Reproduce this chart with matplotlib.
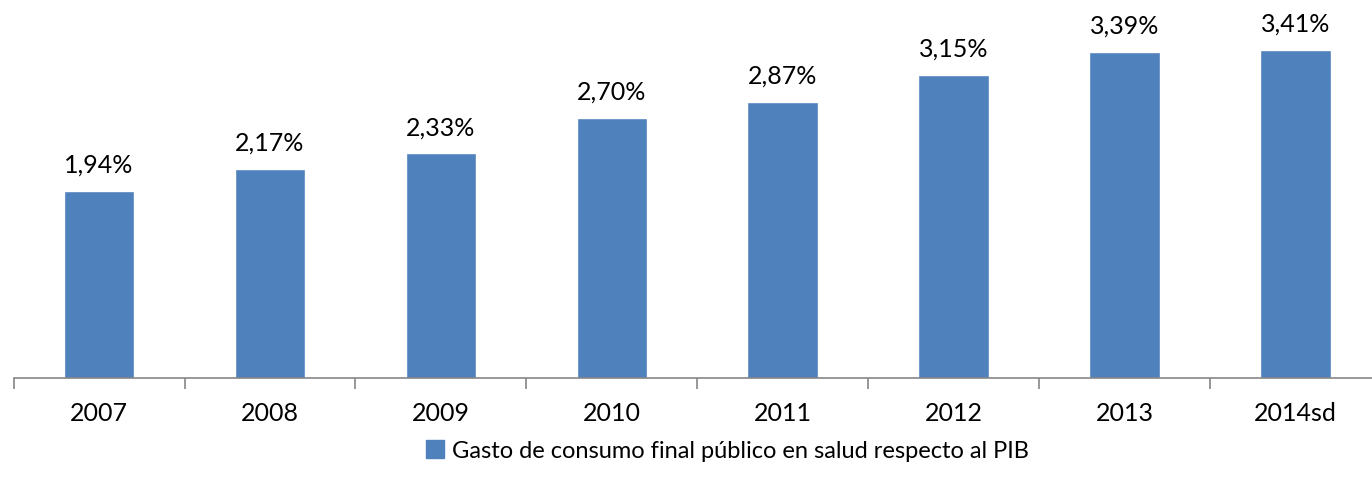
import matplotlib
matplotlib.use("Agg")
import matplotlib.pyplot as plt
from matplotlib.patches import Patch
import numpy as np

categories = ["2007", "2008", "2009", "2010", "2011", "2012", "2013", "2014sd"]
values = [1.94, 2.17, 2.33, 2.70, 2.87, 3.15, 3.39, 3.41]
labels = ["1,94%", "2,17%", "2,33%", "2,70%", "2,87%", "3,15%", "3,39%", "3,41%"]
series_name = "Gasto de consumo final público en salud respecto al PIB"

plt.rcParams['font.family'] = ['Lato', 'DejaVu Sans']

W, H = 1372, 490
fig = plt.figure(figsize=(W / 100, H / 100), dpi=100)
left = 13.6 / W
width = 8 * 170.9 / W
bottom = (H - 378) / H
height = 378 / H
ax = fig.add_axes([left, bottom, width, height])

x = np.arange(len(categories))
color = "#4F81BD"
ax.bar(x, values, width=0.40, color=color, edgecolor="#5B8AC3", linewidth=0.5)
for xi, v, lab in zip(x, values, labels):
    ax.annotate(lab, (xi, v), xytext=(0, 11), textcoords="offset points",
                ha="center", va="bottom", fontsize=18, color="black")

ax.set_xlim(-0.5, len(categories) - 0.5)
ax.set_ylim(0, 3.94)
for s in ["top", "right", "left"]:
    ax.spines[s].set_visible(False)
ax.spines["bottom"].set_color("#868686")
ax.spines["bottom"].set_linewidth(1.2)
ax.set_yticks([])
ax.set_xticks(x)
ax.set_xticklabels(categories, fontsize=18)
ax.tick_params(axis="x", which="major", length=0, pad=17)
ax.set_xticks(np.arange(-0.5, len(categories) + 0.5, 1), minor=True)
ax.tick_params(axis="x", which="minor", length=8, width=1.2, color="#868686", direction="out")

handle = Patch(facecolor=color, edgecolor=color)
fig.legend([handle], [series_name], loc="center", bbox_to_anchor=(727 / W, 1 - 451 / H),
           frameon=False, fontsize=17, handlelength=0.8, handleheight=0.8,
           handletextpad=0.3, borderpad=0)

fig.savefig("out.png", dpi=100)
